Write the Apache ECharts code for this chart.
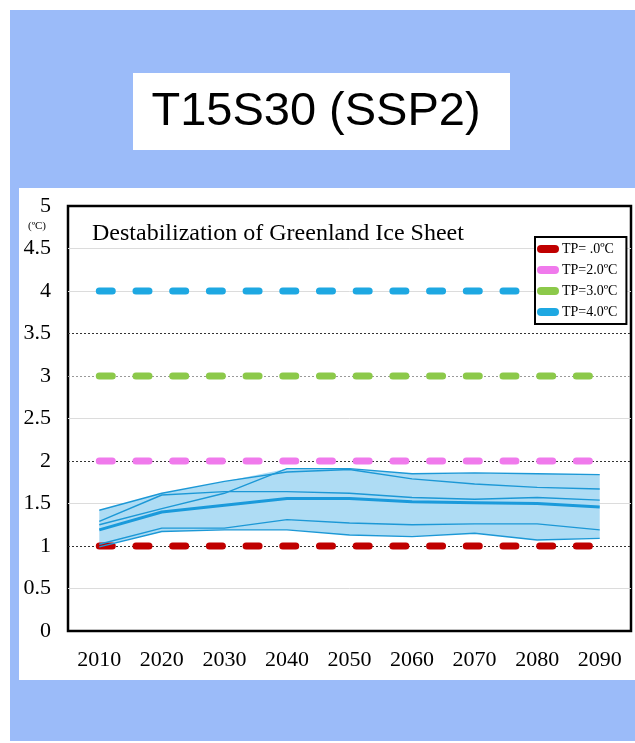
<!DOCTYPE html>
<html>
<head>
<meta charset="utf-8">
<script src="https://cdn.jsdelivr.net/npm/echarts@6/dist/echarts.min.js"></script>
<style>
html,body{margin:0;padding:0;background:#fff;}
#chart{width:635px;height:743px;}
</style>
</head>
<body>
<div id="chart"></div>
<script>
// ---- data ----
const years = ['2010','2020','2030','2040','2050','2060','2070','2080','2090'];
const yTicks = [0,0.5,1,1.5,2,2.5,3,3.5,4,4.5,5];
const tpLevels = [1,2,3,4];
const tpNames = ['TP= .0ºC','TP=2.0ºC','TP=3.0ºC','TP=4.0ºC'];
const bandUpper = [1.42,1.62,1.76,1.91,1.91,1.85,1.86,1.85,1.84];
const bandLower = [0.99,1.17,1.19,1.19,1.13,1.11,1.15,1.07,1.09];
const meanLine  = [1.19,1.40,1.48,1.56,1.56,1.52,1.51,1.50,1.46];
const member1 = [1.42,1.62,1.76,1.87,1.90,1.79,1.73,1.69,1.67];
const member2 = [1.25,1.44,1.62,1.91,1.91,1.85,1.86,1.85,1.84];
const member3 = [1.29,1.60,1.64,1.64,1.62,1.57,1.55,1.57,1.54];
const member4 = [1.02,1.21,1.21,1.31,1.27,1.25,1.26,1.26,1.19];
const member5 = [0.99,1.17,1.19,1.19,1.13,1.11,1.15,1.07,1.09];
const darkGrid = [1,2,3.5];
const midGrid = [3];
const lightGrid = [0.5,1.5,2.5,4,4.5];

// ---- styles ----
const tpColors = ['#C00000','#F07AEC','#8CC94A','#1EA8E2'];
const serif = "'Liberation Serif', 'Times New Roman', serif";
const members = [member1,member2,member3,member4,member5];
const pillIcon = 'path://M4,0 L18,0 A4,4 0 0 1 18,8 L4,8 A4,4 0 0 1 4,0 Z';

const chart = echarts.init(document.getElementById('chart'), null, {renderer:'canvas'});

const gridMarks = []
  .concat(lightGrid.map(v => ({yAxis:v, lineStyle:{color:'#dcdcdc', type:'solid', width:1}})))
  .concat(midGrid.map(v => ({yAxis:v, lineStyle:{color:'#999', type:[2,2], width:1}})))
  .concat(darkGrid.map(v => ({yAxis:v, lineStyle:{color:'#333', type:[2,2], width:1}})));

const series = [];
// band
series.push({
  type:'line', data: bandLower, stack:'band', symbol:'none', silent:true,
  lineStyle:{opacity:0}, z:3,
  markLine:{silent:true, symbol:'none', label:{show:false}, animation:false, data: gridMarks, z:1}
});
series.push({
  type:'line', data: bandUpper.map((v,i)=> +(v - bandLower[i]).toFixed(3)), stack:'band', symbol:'none', silent:true,
  lineStyle:{opacity:0}, areaStyle:{color:'#AEDCF4', opacity:1}, z:3
});
// TP lines
tpLevels.forEach((lv,i)=>{
  series.push({
    name: tpNames[i], type:'line', data: years.map(()=>lv), symbol:'none', z:4,
    lineStyle:{color:tpColors[i], width:7, type:[13,23.7], cap:'round'},
    itemStyle:{color:tpColors[i]}
  });
});
// member lines
members.forEach(m=>{
  series.push({type:'line', data:m, symbol:'none', silent:true, z:5,
    lineStyle:{color:'#1C98D6', width:1.4}});
});
series.push({type:'line', data:meanLine, symbol:'none', silent:true, z:6,
  lineStyle:{color:'#1A9ADB', width:3}});

const axisFont = {fontFamily:serif, fontSize:22, fontStyle:'normal', fontWeight:'normal', color:'#000'};

chart.setOption({
  animation:false,
  backgroundColor:'#ffffff',
  textStyle:{fontFamily:serif},
  title:{
    text:'Destabilization of Greenland Ice Sheet',
    left:92, top:222, padding:0,
    textStyle:{fontFamily:serif, fontSize:24, fontWeight:'normal', color:'#000'}
  },
  graphic:[
    {type:'rect', z:-10, shape:{x:10,y:10,width:625,height:731}, style:{fill:'#9BBBF9'}},
    {type:'rect', z:-9, shape:{x:133,y:73,width:377,height:77}, style:{fill:'#ffffff'}},
    {type:'rect', z:-9, shape:{x:19,y:188,width:616,height:492}, style:{fill:'#ffffff'}},
    {type:'text', z:10, x:316, y:112, style:{text:'T15S30 (SSP2)', fontFamily:"'Liberation Sans', Arial, sans-serif", fontSize:47, fill:'#000', textAlign:'center', textVerticalAlign:'middle'}},
    {type:'text', z:10, x:37, y:226, style:{text:'(ºC)', fontFamily:serif, fontSize:11, fill:'#000', textAlign:'center', textVerticalAlign:'middle'}}
  ],
  legend:{
    data: tpNames,
    z:20,
    orient:'vertical',
    left:535, top:237,
    padding:[5,9,5,2],
    itemGap:7,
    itemWidth:22, itemHeight:8,
    icon:pillIcon,
    borderColor:'#000', borderWidth:2,
    backgroundColor:'#fff',
    textStyle:{fontFamily:serif, fontSize:14, color:'#000', padding:[0,0,0,-2]},
    selectedMode:false
  },
  grid:{left:68, right:4, top:206, bottom:112, show:true, borderColor:'#000', borderWidth:2.5, backgroundColor:'#fff', containLabel:false},
  xAxis:{
    type:'category', data: years, boundaryGap:true,
    axisLine:{show:false}, axisTick:{show:false}, splitLine:{show:false},
    axisLabel:Object.assign({margin:18}, axisFont)
  },
  yAxis:{
    type:'value', min:yTicks[0], max:yTicks[yTicks.length-1], interval:0.5,
    axisLine:{show:false}, axisTick:{show:false}, splitLine:{show:false},
    axisLabel:Object.assign({margin:17, formatter:v=>String(v)}, axisFont)
  },
  series: series
});
</script>
</body>
</html>
